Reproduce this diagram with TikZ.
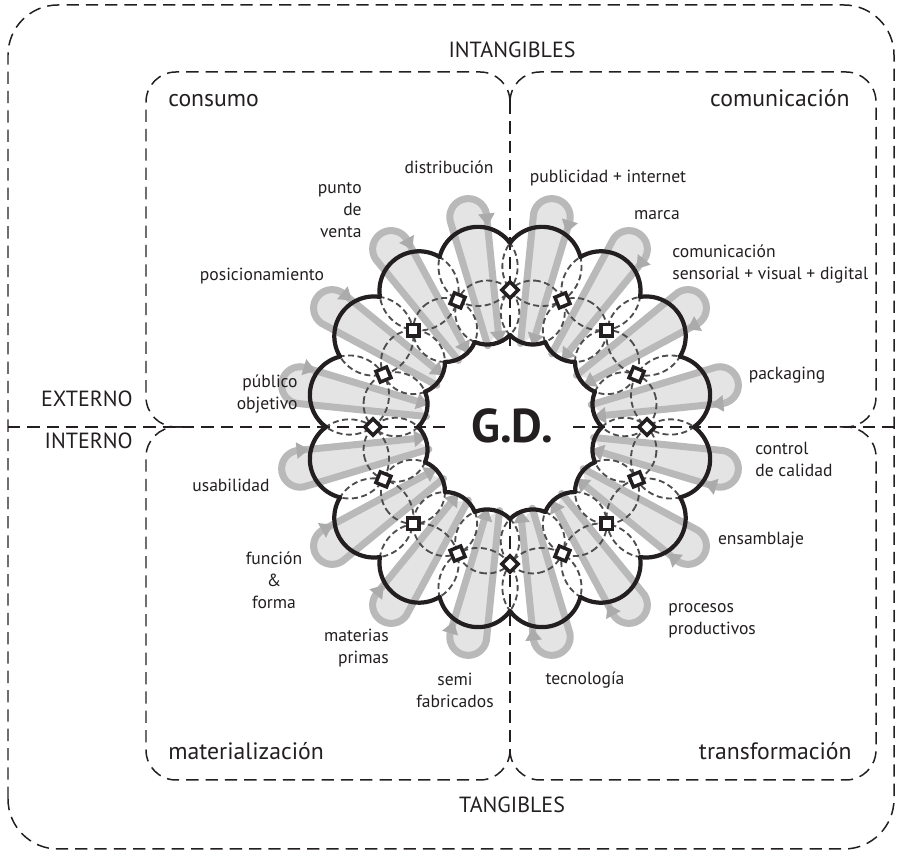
\documentclass[tikz,border=0pt]{standalone}
\usepackage{fontspec}
\setmainfont{PT Sans}
\usepackage{tikz}
\usetikzlibrary{arrows.meta,decorations.markings,positioning}

\definecolor{tonguefill}{HTML}{E4E4E4}
\definecolor{tongueline}{HTML}{B9B9B9}
\definecolor{tonguetip}{HTML}{ABABAB}
\definecolor{ringdash}{HTML}{4D4D4D}
\definecolor{ink}{HTML}{231F20}

\tikzset{
  zone/.style={draw=ink, line width=0.85pt, dash pattern=on 7pt off 4pt, rounded corners=0.6cm},
  tongue/.style={fill=tonguefill, draw=tongueline, line width=4pt, line cap=round, line join=round,
    -{Triangle[length=7pt,width=9pt,color=tonguetip]},
    decoration={markings, mark=at position 0.63 with {\arrow[tonguetip]{Triangle[length=7pt,width=9pt]}}},
    postaction={decorate}},
  hidden/.style={draw=ringdash, line width=1.05pt, dash pattern=on 3.4pt off 2pt},
  lobe/.style={draw=ink, line width=2.4pt, line cap=round},
  knot/.style={draw=ink, fill=white, line width=2pt, minimum size=0.23cm, inner sep=0pt},
  petallbl/.style={font=\fontsize{10}{12.5}\selectfont, text=ink, inner sep=0pt},
  zonelbl/.style={font=\fontsize{13.5}{16}\selectfont, text=ink, inner sep=0pt},
  axislbl/.style={font=\fontsize{12.5}{15}\selectfont, text=ink, inner sep=0pt},
}

\begin{document}
\begin{tikzpicture}[x=0.02cm, y=0.02cm]
    \useasboundingbox (0,0) rectangle (900,854);

    % Frame and quadrants
    \draw[zone, rounded corners=1cm] (8,5) rectangle (894,849);
    \draw[zone] (510,752) |- (146,782) |- (190,427);
    \draw[zone] (510,752) |- (876,782) |- (830,427);
    \draw[zone] (510,104) |- (146,74) |- (190,427);
    \draw[zone] (510,104) |- (876,74) |- (830,427);

    % Dividers
    \coordinate (c) at (510,427);
    \coordinate (west) at (8,427);
    \coordinate (east) at (894,427);
    \coordinate (north) at (510,752);
    \coordinate (south) at (510,104);
    \coordinate (gapw) at (447,427);
    \coordinate (gape) at (573,427);
    \coordinate (gapn) at (510,504);
    \coordinate (gaps) at (510,337);
    \draw[zone] (west) -- (gapw);
    \draw[zone] (gape) -- (east);
    \draw[zone] (north) -- (gapn);
    \draw[zone] (gaps) -- (south);

    % Tongues
    \foreach \k in {0,...,15}{
      \begin{scope}[shift={(c)}, rotate=11.25+22.5*\k]
        \draw[tongue] (84,6) -- (214,18.5) arc[start angle=90, end angle=-90, radius=18.5] -- (84,-6);
      \end{scope}
    }

    % Hidden circles
    \foreach \k in {0,...,15}{
      \begin{scope}[shift={(c)}, rotate=11.25+22.5*\k]
        \draw[hidden] (163.7,0) circle[radius=39.6];
        \draw[hidden] (116.7,0) circle[radius=32];
      \end{scope}
    }

    % Outline of the ring
    \foreach \k in {0,...,15}{
      \begin{scope}[shift={(c)}, rotate=11.25+22.5*\k]
        \draw[lobe] (163.7,0) ++(-64.9:39.6) arc[start angle=-64.9, end angle=64.9, radius=39.6];
        \draw[lobe] (116.7,0) ++(146:32) arc[start angle=146, end angle=214, radius=32];
      \end{scope}
    }

    % Knots
    \begin{scope}[shift={(c)}]
      \foreach \k in {0,...,15}
        \node[knot, rotate=22.5*\k+45] (knot\k) at (22.5*\k:137) {};
    \end{scope}

    % Zone labels
    \node[axislbl] (intang) at (512,804) {INTANGIBLES};
    \node[axislbl] (tang) at (512,49) {TANGIBLES};
    \node[axislbl, anchor=east] (externo) at (133,455) {EXTERNO};
    \node[axislbl, anchor=east] (interno) at (133,413) {INTERNO};
    \node[zonelbl, anchor=base west] (consumo) at (168,747) {consumo};
    \node[zonelbl, anchor=base east] (comunic) at (850,747) {comunicación};
    \node[zonelbl, anchor=base west] (materia) at (168,94) {materialización};
    \node[zonelbl, anchor=base east] (transf) at (852,94) {transformación};

    % Petal labels
    \node[petallbl] (distrib) at (449,687) {distribución};
    \node[petallbl, align=right, anchor=east] (venta) at (362,644) {punto\\de\\venta};
    \node[petallbl] (posic) at (262,578) {posicionamiento};
    \node[petallbl, align=right, anchor=east] (publico) at (298,460) {público\\objetivo};
    \node[petallbl] (usab) at (231,369) {usabilidad};
    \node[petallbl, align=center] (funcion) at (274,274) {función\\\&\\forma};
    \node[petallbl, align=right, anchor=east] (materias) at (389,206) {materias\\primas};
    \node[petallbl, align=center] (semi) at (455,164) {semi\\fabricados};
    \node[petallbl] (tecno) at (585,174) {tecnología};
    \node[petallbl, align=left, anchor=west] (procesos) at (668,233) {procesos\\productivos};
    \node[petallbl] (ensam) at (761,314) {ensamblaje};
    \node[petallbl, align=left, anchor=west] (control) at (755,395) {control\\de calidad};
    \node[petallbl] (packg) at (787,479) {packaging};
    \node[petallbl, align=left, anchor=west] (sensor) at (672,590) {comunicación\\sensorial + visual + digital};
    \node[petallbl] (marca) at (657,639) {marca};
    \node[petallbl] (public) at (608,676) {publicidad + internet};

    % Centre
    \node[text=ink, font=\fontsize{27}{32}\selectfont\bfseries] (gd) at (512,428) {G.D.};
\end{tikzpicture}
\end{document}
